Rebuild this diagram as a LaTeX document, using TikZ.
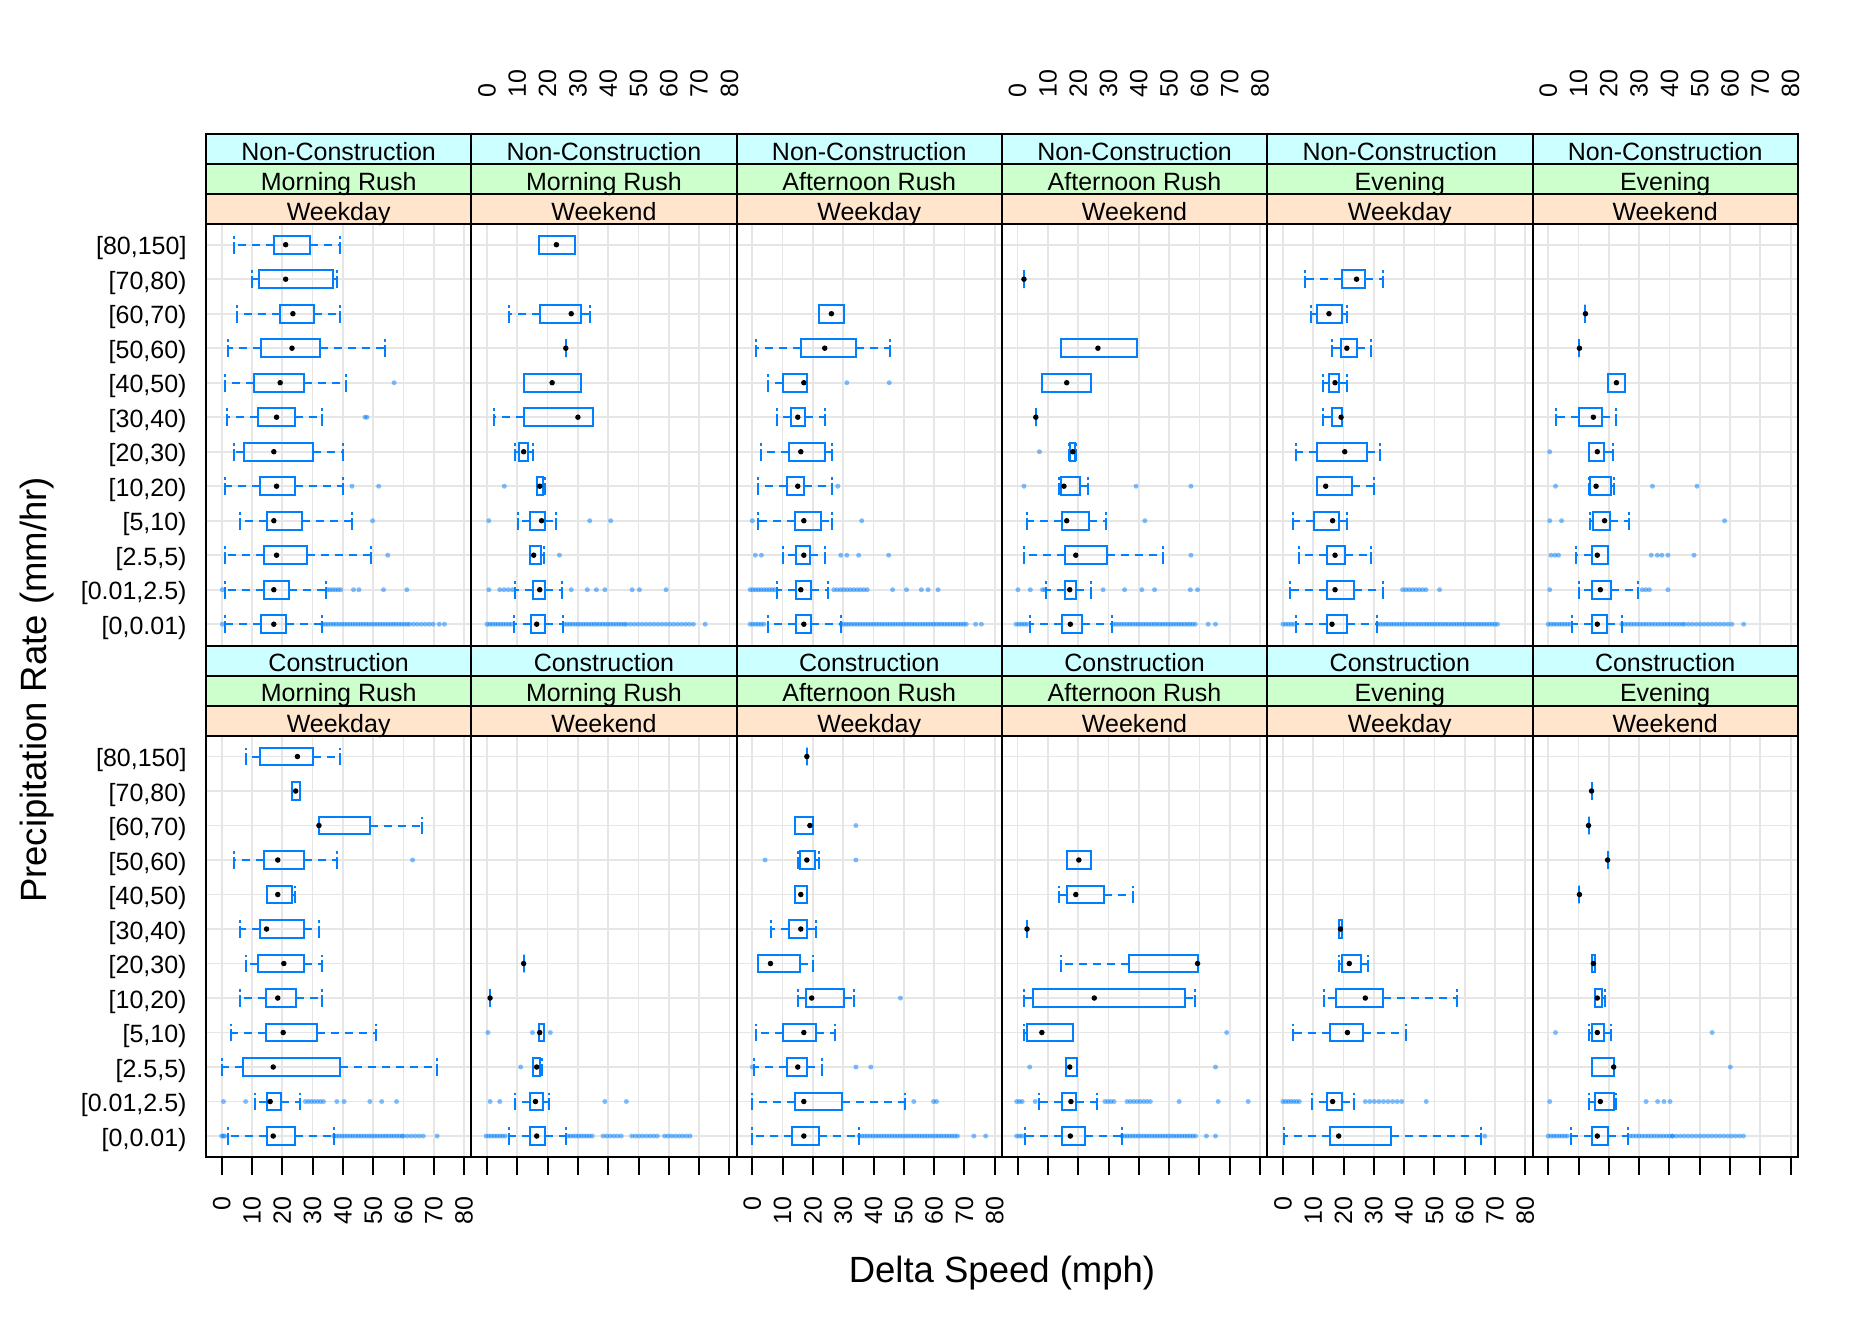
\documentclass[tikz,border=0pt]{standalone}
\usepackage{fontspec}
\setmainfont{Liberation Sans}
\definecolor{boxBlue}{HTML}{0080FF}
\definecolor{gridGray}{HTML}{E6E6E6}
\definecolor{stripTop}{HTML}{CCFFFF}
\definecolor{stripMid}{HTML}{CCFFCC}
\definecolor{stripLow}{HTML}{FFE5CC}

% one box: row, lower whisker, q1, median, q3, upper whisker
\newcommand\bwBox[6]{%
  \draw[whisker] (#3,#1) -- (#2,#1) (#5,#1) -- (#6,#1);
  \draw[staple] (#2,#1+0.26) -- (#2,#1-0.26) (#6,#1+0.26) -- (#6,#1-0.26);
  \draw[boxLine] (#3,#1-0.26) rectangle (#5,#1+0.26);
  \fill (#4,#1) circle [radius=1.1pt];}
% a run of outliers: row, from, to, step
\newcommand\outRun[4]{%
  \pgfmathtruncatemacro\nRun{(#3-(#2))/#4}%
  \foreach \k in {0,...,\nRun}
    \fill[outlier] ({#2+\k*#4},#1) circle [radius=1pt];}
% a panel: column, y of first row, boxes, outliers, runs of outliers
\newcommand\bwPanel[5]{%
  \begin{scope}[shift={({221.7+265.3*#1},#2)},x=1.212pt,y=-13.8pt]
    \foreach \v in {0,10,...,80} \draw[gridLine] (\v,-0.6) -- (\v,11.6);
    \foreach \i in {0,...,11} \draw[gridLine] (-5.18,\i) -- (82.38,\i);
    \foreach \i/\v in {#4} \fill[outlier] (\v,\i) circle [radius=1pt];
    \foreach \i/\a/\b/\s in {#5} {\outRun{\i}{\a}{\b}{\s}}
    \foreach \i/\lo/\qa/\md/\qb/\hi in {#3} {\bwBox{\i}{\lo}{\qa}{\md}{\qb}{\hi}}
  \end{scope}}

\begin{document}
\begin{tikzpicture}[x=0.4pt,y=-0.4pt,
  whisker/.style={boxBlue,line width=0.8pt,dash pattern=on 3.2pt off 2.4pt},
  staple/.style={boxBlue,line width=0.8pt,dash pattern=on 4.8pt off 1.2pt on 1.2pt off 9pt},
  boxLine/.style={boxBlue,line width=0.8pt},
  outlier/.style={fill=boxBlue,fill opacity=0.5},
  gridLine/.style={gridGray,line width=0.7pt},
  stripBox/.style={draw=black,line width=0.8pt},
  frameLine/.style={black,line width=0.8pt},
  titleFont/.style={font=\fontsize{14.6}{17.5}\selectfont}]
  \fill[white,use as bounding box] (0,0) rectangle (1870,1320);

  % Non-Construction
  \bwPanel{0}{244.7}
    {0/3.9/17.2/21.1/29.3/39.2, 1/9.9/12.4/21.1/36.6/38.2, 2/5.0/19.1/23.5/30.3/39.2,
     3/2.0/12.9/23.2/32.6/54.0, 4/1.0/10.7/19.3/27.2/41.0, 5/1.8/11.9/18.1/24.1/33.1,
     6/4.2/7.5/17.2/30.2/40.0, 7/1.0/12.8/18.1/24.1/40.0, 8/5.9/14.8/17.2/26.4/43.0,
     9/1.0/14.0/18.1/28.2/49.3, 10/1.2/14.0/17.2/22.1/34.3, 11/1.2/13.0/17.2/21.3/33.1}
    {4/56.9, 5/47.3, 5/47.9, 7/43.0, 7/51.8, 8/49.8, 9/54.8, 10/0.2, 10/43.5, 10/45.3,
     10/53.4, 10/61.1, 11/0.2, 11/71.8, 11/73.5}
    {10/34.8/40.0/0.9, 11/33.3/62.0/0.9, 11/62.0/70.0/1.3}
  \bwPanel{1}{244.7}
    {0/17.0/17.0/22.9/29.0/29.0, 2/7.1/17.4/27.8/31.0/33.9, 3/26.0/26.0/26.0/26.0/26.0,
     4/12.1/12.1/21.5/31.0/31.0, 5/2.2/12.1/30.0/34.9/34.9, 6/9.1/10.5/12.1/13.5/15.2,
     7/16.4/16.4/17.4/18.4/19.0, 8/10.1/14.2/18.0/19.1/22.9, 9/14.2/14.2/15.4/17.8/18.8,
     10/9.1/15.2/17.4/19.3/24.7, 11/8.9/14.4/16.4/19.1/25.1}
    {7/5.7, 8/0.6, 8/33.9, 8/40.8, 9/23.9, 10/0.6, 10/27.8, 10/33.1, 10/36.1, 10/38.9,
     10/47.9, 10/50.3, 10/59.1, 11/72.0}
    {10/4.2/8.5/1.4, 11/0.0/8.5/0.9, 11/25.5/46.0/0.9, 11/46.0/68.6/1.3}
  \bwPanel{2}{244.7}
    {2/22.1/22.1/26.1/30.2/30.2, 3/1.1/16.0/23.9/34.2/45.4, 4/5.2/10.1/17.0/18.0/18.0,
     5/8.2/12.9/15.0/17.4/24.1, 6/3.0/12.1/16.0/24.1/26.3, 7/2.0/11.5/15.0/17.0/26.3,
     8/2.0/14.1/17.0/22.6/26.3, 9/10.1/14.5/17.0/19.2/24.1, 10/8.2/14.5/16.0/19.4/24.9,
     11/5.2/14.5/17.0/19.4/29.2}
    {4/31.2, 4/45.2, 7/28.2, 8/0.0, 8/36.1, 9/1.0, 9/3.0, 9/29.2, 9/31.2, 9/35.1, 9/45.0,
     10/46.3, 10/50.9, 10/55.8, 10/58.0, 10/61.3, 11/73.7, 11/75.6}
    {10/-0.7/7.5/0.9, 10/26.9/39.0/1.1, 11/-0.7/4.6/0.9, 11/29.2/71.0/0.9}
  \bwPanel{3}{244.7}
    {1/2.1/2.1/2.1/2.1/2.1, 3/14.3/14.3/26.5/39.3/39.3, 4/8.0/8.0/16.2/24.3/24.3,
     5/6.0/6.0/6.0/6.0/6.0, 6/17.0/17.4/18.2/19.0/19.4, 7/13.5/14.3/15.3/20.6/23.3,
     8/3.2/14.5/16.2/23.7/29.2, 9/2.1/15.5/19.2/29.6/48.1, 10/9.4/15.5/17.2/19.4/24.1,
     11/4.2/14.5/17.4/21.4/31.2}
    {6/7.2, 7/2.1, 7/39.1, 7/57.2, 8/42.0, 9/57.2, 10/0.1, 10/4.2, 10/8.2, 10/9.0, 10/28.2,
     10/35.3, 10/41.0, 10/45.2, 10/57.0, 10/59.4, 11/62.9, 11/65.3}
    {11/-0.5/3.6/0.9, 11/31.6/58.6/0.9}
  \bwPanel{4}{244.7}
    {1/7.4/19.4/24.3/27.2/33.1, 2/9.3/11.3/15.2/19.4/21.3, 3/16.2/19.2/21.1/24.3/29.2,
     4/13.3/15.2/17.2/18.4/21.3, 5/13.3/16.2/19.2/19.6/19.6, 6/4.4/11.3/20.4/27.9/32.2,
     7/11.3/11.3/14.1/22.9/30.2, 8/3.4/10.3/16.4/18.6/21.3, 9/5.4/14.5/17.2/20.4/29.2,
     10/2.4/14.5/17.2/23.3/33.1, 11/4.4/14.5/16.2/21.3/31.2}
    {10/51.7}
    {10/39.5/48.0/1.1, 11/0.0/4.0/0.9, 11/31.2/71.5/0.9}
  \bwPanel{5}{244.7}
    {2/12.3/12.3/12.3/12.3/12.3, 3/10.3/10.3/10.3/10.3/10.3, 4/19.6/19.6/22.5/25.5/25.5,
     5/2.4/10.1/14.9/17.8/22.3, 6/13.3/13.3/16.2/18.4/21.4, 7/13.3/13.7/15.8/20.6/21.6,
     8/13.9/14.9/18.6/20.4/26.5, 9/9.3/14.3/16.2/19.6/19.6, 10/10.3/14.3/17.2/20.6/29.6,
     11/8.0/14.3/16.2/19.4/24.3}
    {6/0.5, 7/2.4, 7/34.4, 7/49.1, 8/0.5, 8/4.4, 8/58.2, 9/0.9, 9/2.2, 9/3.4, 9/34.0, 9/36.0,
     9/37.5, 9/39.5, 9/48.1, 10/0.5, 10/31.0, 10/32.2, 10/33.4, 10/39.5, 11/64.5}
    {11/0.0/7.4/0.9, 11/24.3/45.0/1.0, 11/45.0/61.5/1.3}

  % Construction
  \bwPanel{0}{756.5}
    {0/7.9/12.8/25.0/30.2/39.0, 1/23.1/23.1/24.4/25.8/25.8, 2/32.1/32.1/32.1/48.9/66.2,
     3/4.0/14.0/18.5/27.0/38.2, 4/15.0/15.0/18.5/23.3/24.1, 5/5.9/12.8/14.8/27.0/32.1,
     6/7.9/11.9/20.5/27.0/33.1, 7/5.9/14.6/18.5/24.5/33.1, 8/3.0/14.6/20.3/31.3/50.8,
     9/0.0/6.9/17.0/39.0/71.1, 10/10.9/15.0/16.0/19.5/26.0, 11/2.0/15.0/17.0/24.1/37.0}
    {3/63.0, 10/0.6, 10/7.9, 10/38.0, 10/40.4, 10/48.9, 10/52.8, 10/57.7, 11/71.1}
    {10/27.6/34.1/1.0, 11/0.0/1.0/0.5, 11/37.0/60.0/0.9, 11/60.0/67.8/1.3}
  \bwPanel{1}{756.5}
    {6/12.1/12.1/12.1/12.1/12.1, 7/1.0/1.0/1.0/1.0/1.0, 8/17.2/17.2/17.4/18.8/18.8,
     9/15.2/15.2/16.4/17.6/18.2, 10/9.1/14.2/16.0/18.4/20.3, 11/7.1/14.2/16.4/19.1/26.0}
    {8/0.3, 8/15.0, 8/20.9, 9/11.1, 10/1.0, 10/4.2, 10/38.9, 10/46.0}
    {11/-0.3/6.5/0.9, 11/26.6/35.3/0.9, 11/38.3/45.4/1.2, 11/47.8/56.6/1.2, 11/58.6/67.2/1.2}
  \bwPanel{2}{756.5}
    {0/18.0/18.0/18.0/18.0/18.0, 2/14.1/14.1/19.0/20.0/20.0, 3/15.0/15.7/18.0/20.6/22.0,
     4/14.1/14.1/16.0/18.0/18.0, 5/6.2/12.1/16.0/18.0/21.0, 6/2.0/2.0/6.0/15.7/20.0,
     7/15.0/17.6/19.6/30.2/33.4, 8/1.1/10.1/17.0/21.0/27.2, 9/0.5/11.5/15.0/18.0/22.9,
     10/0.0/14.1/17.0/29.6/50.3, 11/0.0/13.1/17.0/22.0/35.3}
    {2/34.2, 3/4.2, 3/34.2, 7/48.9, 9/0.0, 9/34.2, 9/39.1, 10/53.3, 10/59.8, 10/60.8,
     11/73.1, 11/77.0}
    {11/35.3/68.2/0.9}
  \bwPanel{3}{756.5}
    {3/16.2/16.2/20.2/24.3/24.3, 4/13.5/16.2/19.2/28.4/38.1, 5/3.1/3.1/3.1/3.1/3.1,
     6/14.3/36.9/59.4/59.4/59.4, 7/2.1/5.0/25.3/55.4/58.4, 8/2.1/3.1/8.0/18.4/18.4,
     9/16.0/16.0/17.2/19.6/19.6, 10/7.2/14.5/17.6/19.4/26.1, 11/2.3/14.5/17.4/22.3/34.4}
    {8/69.0, 9/4.0, 9/65.3, 10/5.8, 10/53.3, 10/66.2, 10/76.1, 11/62.3, 11/65.3}
    {10/-0.3/2.3/0.9, 10/28.8/31.8/1.0, 10/36.1/44.0/1.1, 11/-0.3/1.7/0.9, 11/34.4/59.4/0.9}
  \bwPanel{4}{756.5}
    {5/18.6/18.6/19.0/19.4/19.4, 6/18.4/19.4/21.9/25.9/28.2, 7/13.5/17.4/27.2/33.1/57.4,
     8/3.4/15.5/21.3/26.3/40.6, 10/9.5/14.5/16.4/19.4/23.3, 11/0.5/15.5/18.4/35.6/65.3}
    {10/47.3, 11/66.6}
    {10/0.0/5.8/0.9, 10/27.2/39.4/1.5}
  \bwPanel{5}{756.5}
    {1/14.3/14.3/14.3/14.3/14.3, 2/13.3/13.3/13.3/13.3/13.3, 3/19.6/19.6/19.6/19.6/19.6,
     4/10.3/10.3/10.3/10.3/10.3, 6/14.3/14.3/14.9/15.5/15.5, 7/15.3/15.3/16.2/17.8/18.8,
     8/13.3/14.3/16.2/18.4/20.6, 9/14.3/14.3/21.6/21.6/21.6, 10/13.3/15.5/17.2/21.6/22.5,
     11/7.4/14.3/16.2/19.6/26.2}
    {8/2.4, 8/54.1, 9/60.1, 10/0.5, 10/32.3, 10/36.1, 10/38.2, 10/40.2}
    {11/0.0/6.8/0.9, 11/27.0/41.0/1.0, 11/41.0/65.3/1.3}

  % strips and frames
  \foreach \c/\tod/\dow in {0/Morning Rush/Weekday,1/Morning Rush/Weekend,
      2/Afternoon Rush/Weekday,3/Afternoon Rush/Weekend,4/Evening/Weekday,5/Evening/Weekend}
    \foreach \y/\work in {133.7/Non-Construction,645.5/Construction} {
      \pgfmathsetmacro\xl{206+265.3*\c}
      \filldraw[stripBox,fill=stripTop] (\xl,\y) rectangle ++(265.3,30.1);
      \filldraw[stripBox,fill=stripMid] (\xl,\y+30.1) rectangle ++(265.3,30.1);
      \filldraw[stripBox,fill=stripLow] (\xl,\y+60.2) rectangle ++(265.3,30.1);
      \node[anchor=base] at (\xl+132.65,\y+26.3) {\work};
      \node[anchor=base] at (\xl+132.65,\y+56.4) {\tod};
      \node[anchor=base] at (\xl+132.65,\y+86.5) {\dow};
      \draw[frameLine] (\xl,\y+90.3) rectangle ++(265.3,421.5);
    }

  % axes
  \foreach \c in {0,...,5}
    \foreach \v in {0,10,...,80}
      \draw[frameLine] ({221.7+265.3*\c+3.03*\v},1157.3) -- ++(0,18);
  \foreach \c in {0,2,4}
    \foreach \v in {0,10,...,80}
      \node[rotate=90,anchor=east,inner sep=0] at ({221.7+265.3*\c+3.03*\v},1196) {\v};
  \foreach \c in {1,3,5}
    \foreach \v in {0,10,...,80}
      \node[rotate=90,anchor=west,inner sep=0] at ({221.7+265.3*\c+3.03*\v},98.3) {\v};
  \foreach \y in {244.7,756.5}
    \foreach \lab [count=\i from 0] in {{[80,150]},{[70,80)},{[60,70)},{[50,60)},{[40,50)},
        {[30,40)},{[20,30)},{[10,20)},{[5,10)},{[2.5,5)},{[0.01,2.5)},{[0,0.01)}}
      \node[anchor=base east,inner sep=0] at (187,\y+34.5*\i+10) {\lab};

  \node[titleFont,anchor=base] at (1002,1282) {Delta Speed (mph)};
  \node[titleFont,rotate=90,anchor=base] at (46.5,690) {Precipitation Rate (mm/hr)};
\end{tikzpicture}
\end{document}
